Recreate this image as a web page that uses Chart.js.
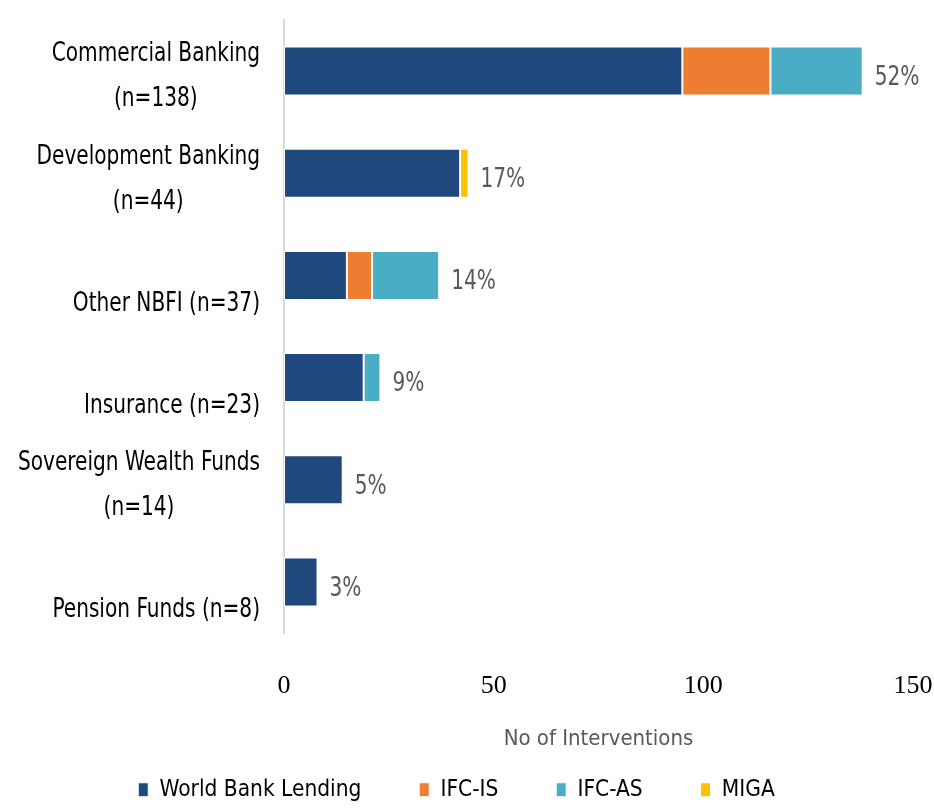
<!DOCTYPE html>
<html>
<head>
<meta charset="utf-8">
<script src="https://cdn.jsdelivr.net/npm/chart.js@4.4.0/dist/chart.umd.min.js"></script>
<style>
  body { margin: 0; background: #fff; }
  #wrap { width: 934px; height: 808px; position: relative; }
</style>
</head>
<body>
<div id="wrap"><canvas id="interventionsChart"></canvas></div>
<script>
// Chart data
const categories = ['Commercial Banking (n=138)', 'Development Banking (n=44)', 'Other NBFI (n=37)',
    'Insurance (n=23)', 'Sovereign Wealth Funds (n=14)', 'Pension Funds (n=8)'];
const categoryLines = [
    ['Commercial Banking', '(n=138)'],
    ['Development Banking', '(n=44)'],
    ['', 'Other NBFI (n=37)'],
    ['', 'Insurance (n=23)'],
    ['Sovereign Wealth Funds', '(n=14)'],
    ['', 'Pension Funds (n=8)']
];
const worldBankLending = [95, 42, 15, 19, 14, 8];
const ifcIS = [21, 0, 6, 0, 0, 0];
const ifcAS = [22, 0, 16, 4, 0, 0];
const miga = [0, 2, 0, 0, 0, 0];
const shareLabels = ['52%', '17%', '14%', '9%', '5%', '3%'];
const xTicks = [0, 50, 100, 150];

const FONT = '"Liberation Sans Narrow", "DejaVu Sans Condensed", sans-serif';
const SQUEEZE = 0.86; // the original text is narrower than any installed font

// Draws the wrapped category names and the share labels at the end of each bar
const sideLabels = {
    id: 'sideLabels',
    afterDraw(chart) {
        const ctx = chart.ctx;
        const x = chart.scales.x;
        const y = chart.scales.y;
        ctx.save();
        ctx.textBaseline = 'middle';
        ctx.font = '26px ' + FONT;
        categoryLines.forEach((lines, i) => {
            const cy = y.getPixelForValue(i) + 6;
            const w = Math.max(...lines.map(l => ctx.measureText(l).width)) * SQUEEZE;
            const cx = chart.chartArea.left - 24 - w / 2;
            ctx.fillStyle = '#000';
            ctx.textAlign = 'center';
            lines.forEach((l, j) => {
                ctx.save();
                ctx.translate(cx, cy + (j - 0.5) * 45);
                ctx.scale(SQUEEZE, 1);
                ctx.fillText(l, 0, 0);
                ctx.restore();
            });

            const total = worldBankLending[i] + ifcIS[i] + ifcAS[i] + miga[i];
            ctx.save();
            ctx.translate(x.getPixelForValue(total) + 12, y.getPixelForValue(i) + 7);
            ctx.scale(SQUEEZE, 1);
            ctx.fillStyle = '#595959';
            ctx.textAlign = 'left';
            ctx.fillText(shareLabels[i], 0, 0);
            ctx.restore();
        });
        ctx.restore();
    }
};

const ctx = document.getElementById('interventionsChart').getContext('2d');
const bar = (label, data, color) => ({
    label: label,
    data: data,
    backgroundColor: color,
    borderColor: '#ffffff',
    borderWidth: 1,
    borderSkipped: false,
    categoryPercentage: 1,
    barPercentage: 0.48
});

// extra room after each legend entry, as in the original
const legendGaps = [9, 9, 9, 0];

new Chart(ctx, {
    type: 'bar',
    data: {
        labels: categories,
        datasets: [
            bar('World Bank Lending', worldBankLending, '#1F497D'),
            bar('IFC-IS', ifcIS, '#ED7D31'),
            bar('IFC-AS', ifcAS, '#4BACC6'),
            bar('MIGA', miga, '#FFC000')
        ]
    },
    options: {
        indexAxis: 'y',
        responsive: true,
        maintainAspectRatio: false,
        animation: false,
        layout: { padding: { left: 0, right: 21, top: 20, bottom: -3 } },
        scales: {
            x: {
                stacked: true,
                min: 0,
                max: 150,
                afterBuildTicks: scale => { scale.ticks = xTicks.map(v => ({ value: v })); },
                afterFit: scale => { scale.paddingLeft = 0; scale.paddingRight = 0; },
                grid: { display: false },
                border: { display: false },
                ticks: {
                    color: '#000',
                    padding: 30,
                    font: { family: '"Liberation Serif", serif', size: 26 }
                },
                title: {
                    display: true,
                    text: 'No of Interventions',
                    color: '#595959',
                    padding: { top: 0, bottom: 32 },
                    font: { family: FONT, size: 22, lineHeight: 0.65 }
                }
            },
            y: {
                stacked: true,
                afterFit: scale => { scale.width = 284; },
                grid: { display: false, drawTicks: false },
                border: { color: '#d9d9d9', width: 2 },
                ticks: { display: false }
            }
        },
        plugins: {
            legend: {
                position: 'bottom',
                labels: {
                    color: '#000',
                    boxWidth: 10,
                    boxHeight: 14,
                    padding: 0,
                    font: { family: FONT, size: 22.5 },
                    generateLabels: chart => Chart.defaults.plugins.legend.labels.generateLabels(chart)
                        .map((item, i) => Object.assign(item, { text: item.text + ' '.repeat(legendGaps[i]) }))
                }
            },
            tooltip: { enabled: false }
        }
    },
    plugins: [sideLabels]
});
</script>
</body>
</html>
